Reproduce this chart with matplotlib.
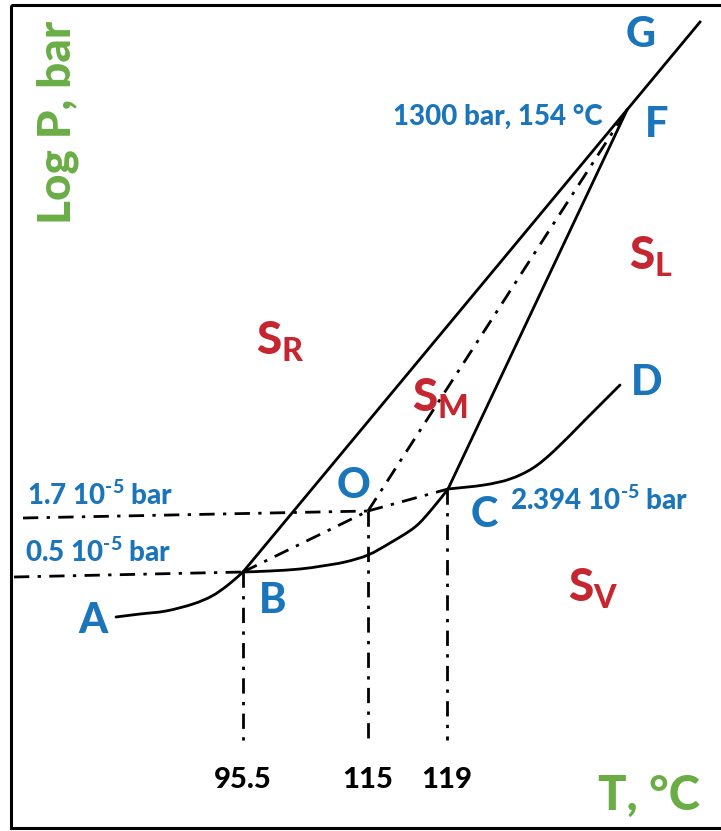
import numpy as np
import matplotlib
matplotlib.use("Agg")
import matplotlib.pyplot as plt
from matplotlib.patches import Rectangle, PathPatch
from matplotlib.path import Path

plt.rcParams['font.family'] = ['Lato', 'DejaVu Sans']
plt.rcParams['font.weight'] = 'black'
plt.rcParams['mathtext.fontset'] = 'custom'
plt.rcParams['mathtext.rm'] = 'Lato:black'
plt.rcParams['mathtext.it'] = 'Lato:black'
plt.rcParams['mathtext.bf'] = 'Lato:black'
plt.rcParams['mathtext.default'] = 'rm'

BLUE = '#1b75bb'
RED = '#c5262f'
GREEN = '#6aad45'

# schematic coordinates (x to the right, y downwards)
pt_B = (243, 572)
pt_O = (368, 511)
pt_C = (448, 489)
pt_F = (627, 110)
pt_G = (700, 22)

# sublimation curve of rhombic sulfur A -> B
curve_AB_x = [116, 140, 166, 193, 212, 228, 243]
curve_AB_y = [617, 614, 611, 604, 596, 585, 572]
# sublimation curve of monoclinic sulfur B -> C
curve_BC_x = [243, 270, 300, 322, 345, 368, 390, 415, 432, 448]
curve_BC_y = [572, 571, 569, 566, 562, 555, 543, 527, 509, 489]
# vapour pressure curve of liquid sulfur C -> D
curve_CD_x = [448, 484, 510, 533, 555, 585, 620]
curve_CD_y = [489, 485, 479, 468, 450, 420, 385]

# reference levels and temperatures
p_low_y = (577, 572)     # 0.5 10^-5 bar
p_mid_y = (518, 511)     # 1.7 10^-5 bar
t_marks_x = [243, 368, 447]
t_marks_top = [572, 511, 489]
t_marks_bottom = [747, 740, 740]
t_labels = ['95.5', '115', '119']


def smooth_path(xs, ys):
    # Catmull-Rom through the points, drawn as cubic Bezier segments
    p = np.column_stack([xs, ys]).astype(float)
    ext = np.vstack([p[0], p, p[-1]])
    verts = [p[0]]
    codes = [Path.MOVETO]
    for i in range(1, len(ext) - 2):
        p0, p1, p2, p3 = ext[i - 1], ext[i], ext[i + 1], ext[i + 2]
        verts += [p1 + (p2 - p0) / 6, p2 - (p3 - p1) / 6, p2]
        codes += [Path.CURVE4] * 3
    return Path(verts, codes)


fig = plt.figure(figsize=(7.21, 8.31), dpi=100)
ax = fig.add_axes([0, 0, 1, 1])
ax.set_xlim(0, 721)
ax.set_ylim(831, 0)
ax.axis('off')

ax.add_patch(Rectangle((11, 5), 760, 823, fill=False, lw=2.2, ec='black'))

lw = 2.0
dd = (0, (5.5, 3.0, 1.2, 3.0))

for cx, cy in [(curve_AB_x, curve_AB_y), (curve_BC_x, curve_BC_y), (curve_CD_x, curve_CD_y)]:
    ax.add_patch(PathPatch(smooth_path(cx, cy), fill=False, lw=lw, ec='black', capstyle='round'))
ax.plot([pt_B[0], pt_G[0]], [pt_B[1], pt_G[1]], color='black', lw=lw)
ax.plot([pt_C[0], pt_F[0]], [pt_C[1], pt_F[1]], color='black', lw=lw)

# metastable lines
ax.plot([pt_B[0], pt_O[0]], [pt_B[1], pt_O[1]], color='black', lw=lw, ls=dd)
ax.plot([pt_O[0], pt_F[0]], [pt_O[1], pt_F[1]], color='black', lw=lw, ls=dd)
ax.plot([pt_O[0], pt_C[0]], [pt_O[1], pt_C[1]], color='black', lw=lw, ls=dd)

# guide lines to the axes
ax.plot([14, pt_B[0]], list(p_low_y), color='black', lw=lw, ls=dd)
ax.plot([23, pt_O[0]], list(p_mid_y), color='black', lw=lw, ls=dd)
for x, y0, y1 in zip(t_marks_x, t_marks_top, t_marks_bottom):
    ax.plot([x, x], [y0, y1], color='black', lw=lw, ls=dd)
for x, lab in zip(t_marks_x, t_labels):
    ax.text(x, 788, lab, ha='center', va='baseline', fontsize=21, color='black')

# point letters
for lab, x, y in [('G', 641, 47), ('F', 657, 137), ('D', 647, 395), ('C', 484, 527),
                  ('O', 354, 498), ('B', 273, 613), ('A', 93, 633)]:
    ax.text(x, y, lab, ha='center', va='baseline', fontsize=30, color=BLUE)

# phase regions
for lab, x, y in [('$S_R$', 256, 355), ('$S_M$', 412, 412), ('$S_L$', 629, 270), ('$S_V$', 568, 602)]:
    ax.text(x, y, lab, ha='left', va='baseline', fontsize=33, color=RED)

# pressure annotations
sup = '10$^{\u20105}$'
ax.text(27, 505, '1.7 ' + sup + ' bar', ha='left', va='baseline', fontsize=20, color=BLUE)
ax.text(25, 562, '0.5 ' + sup + ' bar', ha='left', va='baseline', fontsize=20, color=BLUE)
ax.text(510, 510, '2.394 ' + sup + ' bar', ha='left', va='baseline', fontsize=20, color=BLUE)
ax.text(603, 125, '1300 bar, 154 °C', ha='right', va='baseline', fontsize=20, color=BLUE)

# axis titles
ax.text(58, 122, 'Log P, bar', rotation=90, ha='center', va='center', fontsize=33, color=GREEN)
ax.text(700, 810, 'T, °C', ha='right', va='baseline', fontsize=34, color=GREEN)

fig.savefig('out.png', dpi=100, facecolor='white')
